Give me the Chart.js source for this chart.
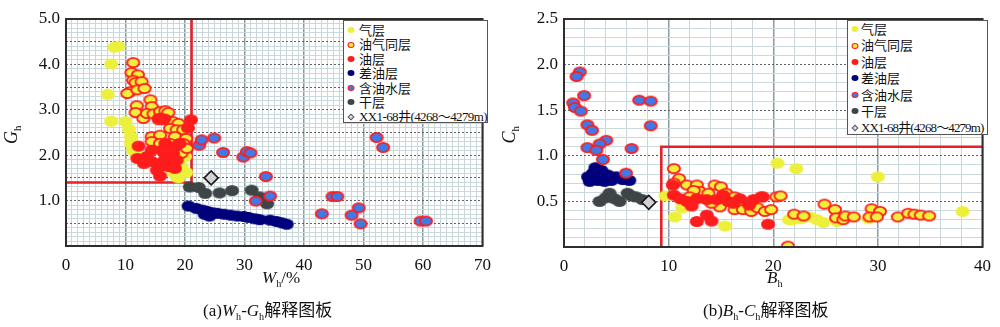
<!DOCTYPE html>
<html><head><meta charset="utf-8">
<script src="https://cdn.jsdelivr.net/npm/chart.js@4/dist/chart.umd.min.js"></script>
<style>
html,body{margin:0;padding:0;background:#fff;}
#wrap{position:relative;width:1000px;height:327px;overflow:hidden;background:#fff;}
.cv{position:absolute;top:0;width:500px;height:327px;}
.lbl{position:absolute;font-family:"Liberation Serif","Noto Sans CJK SC",serif;color:#111;white-space:nowrap;}
.lbl i{font-style:italic;}
.lbl sub{font-size:60%;vertical-align:-0.35em;}
.cap{font-size:17px;}
.cap .zh{font-family:"Noto Sans CJK SC",sans-serif;}
.legend{position:absolute;background:#fff;border:1px solid #555;box-sizing:border-box;font-family:"Liberation Serif","Noto Sans CJK SC",serif;font-size:13px;color:#111;overflow:hidden;}
.legend .it{position:relative;white-space:nowrap;}
.legend .mk{position:absolute;top:50%;transform:translate(-50%,-50%);border-radius:50%;box-sizing:border-box;}
.legend .zh{font-family:"Noto Sans CJK SC",sans-serif;}
#lg1 .last{letter-spacing:-0.6px;}
#lg2 .last{letter-spacing:-0.9px;}
</style></head>
<body>
<div id="wrap">
  <div class="cv" style="left:0"><canvas id="c1"></canvas></div>
  <div class="cv" style="left:500px"><canvas id="c2"></canvas></div>
  <div class="lbl" style="left:3px;top:124px;font-size:18px;transform:rotate(-90deg);transform-origin:center;"><i>G</i><sub>h</sub></div>
  <div class="lbl" style="left:501px;top:124px;font-size:18px;transform:rotate(-90deg);transform-origin:center;"><i>C</i><sub>h</sub></div>
  <div class="lbl" style="left:262px;top:268px;font-size:17px;"><i>W</i><sub>h</sub>/%</div>
  <div class="lbl" style="left:767px;top:268px;font-size:17px;"><i>B</i><sub>h</sub></div>
  <div class="lbl cap" style="left:203px;top:296px;">(a)<i>W</i><sub>h</sub>-<i>G</i><sub>h</sub><span class="zh">解释图板</span></div>
  <div class="lbl cap" style="left:703px;top:296px;">(b)<i>B</i><sub>h</sub>-<i>C</i><sub>h</sub><span class="zh">解释图板</span></div>
  <div class="legend" id="lg1" style="left:343px;top:20px;width:145px;height:103px;padding-top:2px;"></div>
  <div class="legend" id="lg2" style="left:847px;top:20px;width:141px;height:115px;padding-top:0px;"></div>
</div>
<script>
// ---------- categories ----------
const categories = ['气层','油气同层','油层','差油层','含油水层','干层','XX1-68井(4268～4279m)'];

// ---------- left panel (Wh - Gh) ----------
const leftGas = [[8.1,4.38],[8.8,4.40],[7.6,4.01],[7.0,3.34],[7.6,2.75],[10.0,2.74],[10.6,2.57],[10.9,2.41],[10.9,2.26],[11.3,2.11],[11.8,2.0],[12.5,1.9],[18.0,1.64],[19.4,1.75],[18.6,1.53],[18.9,1.50],[20.0,1.97],[20.2,1.62],[19.8,2.1]];
const leftOilGas = [[11.3,4.04],[11.0,3.82],[12.1,3.77],[11.3,3.65],[11.7,3.60],[12.7,3.62],[10.8,3.40],[10.3,3.36],[12.0,3.44],[13.2,3.47],[11.9,3.09],[11.7,2.94],[14.2,3.22],[14.4,3.07],[13.0,2.81],[13.6,2.92],[14.7,2.91],[15.8,2.96],[16.7,2.98],[17.2,2.94],[15.6,2.78],[16.7,2.78],[18.0,2.74],[18.9,2.70],[17.5,2.59],[18.6,2.56],[19.7,2.56],[14.4,2.41],[15.8,2.44],[18.3,2.41],[20.2,2.37],[14.4,2.30],[15.8,2.26],[17.5,2.26],[19.7,2.26],[16.4,2.08],[19.4,2.04],[20.3,2.15]];
const leftOil = [[15.6,2.81],[16.5,2.80],[21.0,2.78],[20.5,2.60],[12.2,2.20],[16.7,2.26],[18.3,2.19],[13.6,1.97],[12.0,1.93],[13.1,1.82],[14.4,1.86],[15.8,1.82],[16.7,1.93],[18.0,2.04],[18.6,1.89],[17.2,1.75],[18.3,1.71],[15.8,1.54],[15.3,1.67],[14.4,2.11],[19.1,2.26],[17.5,2.11],[16.1,2.11]];
const leftPoor = [[20.6,0.88],[21.9,0.83],[23.0,0.79],[23.3,0.70],[23.8,0.76],[24.1,0.66],[24.7,0.73],[25.5,0.72],[26.6,0.70],[27.7,0.68],[28.8,0.66],[29.9,0.65],[30.7,0.63],[31.8,0.60],[32.6,0.58],[34.3,0.57],[35.4,0.54],[36.3,0.51],[37.1,0.48]];
const leftWater = [[22.4,2.22],[22.8,2.34],[24.9,2.38],[26.4,2.06],[29.8,1.96],[30.4,2.08],[31.0,2.05],[33.6,1.53],[34.3,1.10],[31.9,0.99],[44.8,1.09],[45.6,1.09],[43.0,0.71],[49.2,0.84],[48.0,0.68],[49.5,0.49],[52.2,2.39],[53.3,2.17],[59.6,0.55],[60.5,0.55]];
const leftDry = [[20.8,1.30],[22.3,1.29],[23.4,1.16],[25.8,1.17],[27.9,1.22],[31.2,1.23],[32.6,1.08],[33.8,0.93]];
const leftWell = [[24.4,1.50]];
const leftBoundary = [[0,1.4],[21.1,1.4],[21.1,5.0]];
const leftXTicks = [0,10,20,30,40,50,60,70];
const leftYTicks = [1.0,2.0,3.0,4.0,5.0];

// ---------- right panel (Bh - Ch) ----------
const rightGas = [[20.4,0.92],[22.2,0.86],[30.0,0.77],[38.1,0.39],[21.5,0.30],[22.6,0.31],[24.2,0.30],[24.8,0.27],[26.1,0.28],[29.1,0.31],[10.6,0.33],[11.3,0.43],[9.7,0.56],[15.4,0.23],[21.8,0.30],[23.5,0.33]];
const rightOilGas = [[10.5,0.86],[11.0,0.75],[11.75,0.68],[12.7,0.68],[14.4,0.68],[15.0,0.66],[10.5,0.70],[13.0,0.61],[12.4,0.62],[13.8,0.59],[15.5,0.59],[16.3,0.55],[17.0,0.50],[12.0,0.55],[14.9,0.44],[16.3,0.41],[17.1,0.41],[17.9,0.39],[18.5,0.43],[19.2,0.39],[19.8,0.41],[20.3,0.55],[20.7,0.56],[22.0,0.36],[22.9,0.34],[21.4,0.01],[14.1,0.48],[24.9,0.47],[25.9,0.41],[26.0,0.32],[26.7,0.30],[26.9,0.34],[27.7,0.33],[29.4,0.42],[30.2,0.39],[29.2,0.33],[29.9,0.33],[31.9,0.33],[32.9,0.37],[33.5,0.36],[34.1,0.35],[34.9,0.34]];
const rightOil = [[10.5,0.57],[11.1,0.53],[11.75,0.50],[12.7,0.53],[13.65,0.52],[14.6,0.52],[15.2,0.57],[15.7,0.50],[16.8,0.53],[17.7,0.46],[18.1,0.52],[18.85,0.55],[19.0,0.55],[12.7,0.28],[13.65,0.35],[14.1,0.285],[19.5,0.25],[10.4,0.68],[12.2,0.45],[16.2,0.48]];
const rightPoor = [[2.30,0.77],[2.77,0.81],[3.57,0.84],[3.24,0.73],[4.19,0.79],[4.98,0.77],[5.61,0.74],[6.24,0.73],[2.46,0.72],[3.88,0.72],[4.54,0.73],[3.0,0.87]];
const rightWater = [[1.51,1.92],[1.20,1.87],[1.92,1.66],[0.88,1.58],[1.04,1.53],[1.61,1.49],[7.19,1.61],[8.29,1.60],[2.24,1.34],[2.68,1.28],[8.29,1.33],[4.04,1.17],[3.40,1.13],[2.24,1.09],[3.09,1.06],[6.46,1.08],[3.72,0.96],[5.93,0.81]];
const rightDry = [[3.40,0.50],[3.97,0.54],[4.35,0.59],[4.82,0.53],[5.30,0.50],[6.08,0.59],[6.43,0.56],[6.87,0.55],[7.50,0.52]];
const rightWell = [[8.1,0.49]];
const rightBoundary = [[9.3,0],[9.3,1.1],[40,1.1]];
const rightXTicks = [0,10,20,30,40];
const rightYTicks = [0.5,1.0,1.5,2.0,2.5];

// ---------- styles ----------
const C = {gas:'#ecf03a', oilgasFill:'#f2ee3c', red:'#ff1c1c', navy:'#00007c', blue:'#3f7ae8', grey:'#3d4547', well:'#d2d2d2', box:'#e42228'};

function ellipse(fill, stroke, w, h, lw){
  const c = document.createElement('canvas');
  c.width = w + 2; c.height = h + 2;
  const g = c.getContext('2d');
  g.beginPath();
  g.ellipse(c.width/2, c.height/2, w/2 - (stroke?lw/2:0), h/2 - (stroke?lw/2:0), 0, 0, Math.PI*2);
  g.fillStyle = fill; g.fill();
  if (stroke){ g.lineWidth = lw; g.strokeStyle = stroke; g.stroke(); }
  return c;
}
const W = 14, H = 11;
const styles = [
  {img: ellipse(C.gas, null, W, H, 0), mk:{bg:C.gas}},
  {img: ellipse(C.oilgasFill, C.red, W, H, 1.8), mk:{bg:C.oilgasFill, bd:C.red}},
  {img: ellipse(C.red, null, W, H, 0), mk:{bg:C.red}},
  {img: ellipse(C.navy, null, W, H, 0), mk:{bg:C.navy}},
  {img: ellipse(C.blue, C.red, W, H, 1.8), mk:{bg:C.blue, bd:C.red}},
  {img: ellipse(C.grey, null, W, H, 0), mk:{bg:C.grey}},
  {img: null, mk:{diamond:true}}
];
const drawOrder = [6, 2, 1, 4, 3, 5, 0]; // lower = on top

const toXY = a => a.map(p => ({x:p[0], y:p[1]}));

function buildDatasets(series, boundary){
  const ds = series.map((arr, i) => {
    if (i === 6) {
      return {label: categories[i], data: toXY(arr), pointStyle:'rectRot', pointRadius:7, pointHoverRadius:7,
        backgroundColor: C.well, borderColor:'#1a1a1a', borderWidth:1.6, order: 0};
    }
    return {label: categories[i], data: toXY(arr), pointStyle: styles[i].img, pointRadius:6, pointHoverRadius:6,
      backgroundColor: styles[i].mk.bg, borderWidth:0, order: drawOrder[i]};
  });
  ds.push({type:'line', label:'boundary', data: toXY(boundary), borderColor: C.box, borderWidth:2.6,
    pointRadius:0, fill:false, showLine:true, order: 20});
  return ds;
}

const near = (v, step) => Math.abs(v/step - Math.round(v/step)) < 1e-6;

const framePlugin = {
  id:'frame',
  afterDraw(chart){
    const a = chart.chartArea, g = chart.ctx;
    g.save(); g.strokeStyle = '#2e2e2e'; g.lineWidth = 2;
    g.strokeRect(a.left, a.top, a.right - a.left, a.bottom - a.top);
    g.restore();
  }
};

function makeChart(id, series, boundary, cfg){
  return new Chart(document.getElementById(id), {
    type:'scatter',
    data:{datasets: buildDatasets(series, boundary)},
    plugins:[framePlugin],
    options:{
      responsive:true, maintainAspectRatio:false, animation:false, devicePixelRatio:1,
      layout:{padding:{top:19, right:cfg.padRight, left:0, bottom:0}},
      plugins:{legend:{display:false}, tooltip:{enabled:false}},
      scales:{
        x:{
          type:'linear', min:cfg.xMin, max:cfg.xMax,
          afterFit(s){ s.height = cfg.xAxisH; },
          ticks:{stepSize:cfg.xStep, autoSkip:false, maxRotation:0, padding:9, color:'#111',
            font:{family:'Liberation Serif', size:17},
            callback:(v) => cfg.xTicks.some(t => Math.abs(t - v) < 1e-6) ? String(v) : ''},
          grid:{drawTicks:false,
            color:(ctx) => (ctx.tick && near(ctx.tick.value, 10)) ? '#8a9ba0' : '#c9d7da',
            lineWidth:(ctx) => (ctx.tick && near(ctx.tick.value, 10)) ? 1.5 : 1},
          border:{display:false}
        },
        y:{
          type:'linear', min:cfg.yMin, max:cfg.yMax,
          afterFit(s){ s.width = cfg.yAxisW; },
          ticks:{stepSize:0.1, autoSkip:false, padding:6, color:'#111',
            font:{family:'Liberation Serif', size:17},
            callback:(v) => cfg.yTicks.some(t => Math.abs(t - v) < 1e-6) ? Number(v).toFixed(1) : ''},
          grid:{drawTicks:false,
            color:(ctx) => (ctx.tick && near(ctx.tick.value, 0.5)) ? '#5e6466' : '#ccd9dc',
            lineWidth:1},
          border:{display:false,
            dash:(ctx) => (ctx.tick && near(ctx.tick.value, 0.5)) ? [2,2] : []}
        }
      }
    }
  });
}

makeChart('c1', [leftGas, leftOilGas, leftOil, leftPoor, leftWater, leftDry, leftWell], leftBoundary,
  {xMin:0, xMax:70, xStep:1, xTicks:leftXTicks, yMin:0, yMax:5, yTicks:leftYTicks, yAxisW:66, xAxisH:81, padRight:11});
makeChart('c2', [rightGas, rightOilGas, rightOil, rightPoor, rightWater, rightDry, rightWell], rightBoundary,
  {xMin:0, xMax:40, xStep:2, xTicks:rightXTicks, yMin:0, yMax:2.5, yTicks:rightYTicks, yAxisW:64, xAxisH:80, padRight:13});

// ---------- legends ----------
function buildLegend(id, lineH, padL){
  const el = document.getElementById(id);
  categories.forEach((name, i) => {
    const it = document.createElement('div');
    it.className = 'it';
    it.style.height = lineH + 'px';
    it.style.lineHeight = lineH + 'px';
    it.style.paddingLeft = padL + 'px';
    const mk = document.createElement('span');
    mk.className = 'mk';
    mk.style.left = '7px';
    const m = styles[i].mk;
    if (m.diamond){
      mk.style.width = '5px'; mk.style.height = '5px'; mk.style.borderRadius = '0';
      mk.style.background = '#dde'; mk.style.border = '1px solid #556';
      mk.style.transform = 'translate(-50%,-50%) rotate(45deg)';
    } else {
      mk.style.width = '7px'; mk.style.height = '6px'; mk.style.background = m.bg;
      if (m.bd) mk.style.border = '1.5px solid ' + m.bd;
    }
    it.appendChild(mk);
    const tx = document.createElement('span');
    if (i === categories.length - 1) tx.className = 'last';
    tx.innerHTML = name.replace(/([\u4e00-\u9fff～]+)/g, '<span class="zh">$1</span>');
    it.appendChild(tx);
    el.appendChild(it);
  });
}
buildLegend('lg1', 14.4, 15);
buildLegend('lg2', 16.4, 13);
</script>
</body></html>
